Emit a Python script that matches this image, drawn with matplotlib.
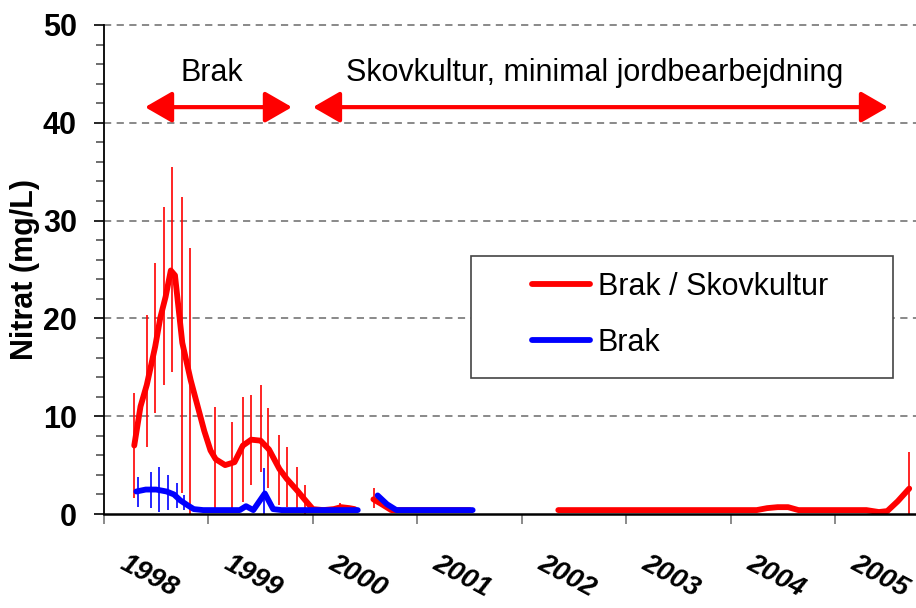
import numpy as np
import matplotlib
matplotlib.use('Agg')
import matplotlib.pyplot as plt
from matplotlib.patches import Rectangle

plt.rcParams['font.family'] = ['Liberation Sans', 'DejaVu Sans']

nan = np.nan

# Brak / Skovkultur (red) - line
red_x = [1998.29, 1998.35, 1998.41, 1998.49, 1998.54, 1998.59, 1998.64, 1998.68, 1998.75, 1998.83,
         1998.89, 1998.96, 1999.02, 1999.07, 1999.16, 1999.25, 1999.33, 1999.41, 1999.50, 1999.58,
         1999.68, 1999.75, 1999.85, 1999.92, 2000.00, 2000.10, 2000.20, 2000.27, 2000.35, 2000.40,
         nan, 2000.58, 2000.66, 2000.75, 2001.50,
         nan, 2002.35, 2004.25, 2004.35, 2004.45, 2004.55, 2004.65, 2005.30, 2005.42, 2005.50,
         2005.60, 2005.71]
red_y = [7.0, 11.0, 13.2, 17.1, 20.1, 22.2, 24.9, 24.4, 17.5, 13.7,
         11.3, 8.5, 6.5, 5.6, 5.0, 5.3, 7.0, 7.6, 7.5, 6.6,
         4.6, 3.6, 2.4, 1.5, 0.5, 0.4, 0.5, 0.7, 0.6, 0.5,
         nan, 1.5, 1.0, 0.4, 0.4,
         nan, 0.4, 0.4, 0.6, 0.7, 0.7, 0.4, 0.4, 0.2, 0.3,
         1.3, 2.6]

# red error bars (min / max)
red_bar_x = [1998.290, 1998.409, 1998.488, 1998.577, 1998.654, 1998.750, 1998.826, 1999.063,
             1999.229, 1999.328, 1999.405, 1999.501, 1999.573, 1999.676, 1999.749, 1999.845,
             1999.922, 2000.260, 2000.585, 2005.708]
red_bar_lo = [1.6, 6.9, 10.3, 13.2, 14.5, 2.1, -0.4, 0.6,
              0.6, 1.2, 3.0, 4.3, 2.7, 0.9, 0.7, 0.6,
              -0.1, 0.4, 0.6, -0.2]
red_bar_hi = [12.4, 20.3, 25.7, 31.4, 35.5, 32.4, 27.2, 10.9,
              9.4, 12.0, 12.2, 13.2, 10.8, 8.1, 6.9, 4.8,
              3.0, 1.1, 2.7, 6.3]

# Brak (blue) - line
blue_x = [1998.31, 1998.40, 1998.50, 1998.60, 1998.67, 1998.73, 1998.80, 1998.86, 1998.95, 1999.30,
          1999.36, 1999.43, 1999.54, 1999.62, 1999.70, 2000.43,
          nan, 2000.62, 2000.71, 2000.80, 2001.53]
blue_y = [2.3, 2.5, 2.5, 2.3, 2.0, 1.4, 0.9, 0.5, 0.4, 0.4,
          0.8, 0.4, 2.1, 0.5, 0.4, 0.4,
          nan, 1.9, 1.0, 0.4, 0.4]

blue_bar_x = [1998.328, 1998.447, 1998.524, 1998.616, 1998.696, 1998.769, 1999.535]
blue_bar_lo = [0.7, 0.6, 0.2, 0.4, 0.6, 0.4, -0.6]
blue_bar_hi = [3.8, 4.3, 4.8, 4.0, 3.2, 1.9, 4.7]

years = [1998, 1999, 2000, 2001, 2002, 2003, 2004, 2005]

fig = plt.figure(figsize=(9.16, 6.08), dpi=100)
ax = fig.add_axes([0.1135, 0.1546, 0.8865, 0.8043])

ax.vlines(red_bar_x, red_bar_lo, red_bar_hi, color='#ff0000', lw=1.2, zorder=3)
ax.vlines(blue_bar_x, blue_bar_lo, blue_bar_hi, color='#0000ff', lw=1.2, zorder=4)
ax.plot(red_x, red_y, color='#ff0000', lw=4.2, solid_capstyle='round',
        solid_joinstyle='round', zorder=5, label='Brak / Skovkultur')
ax.plot(blue_x, blue_y, color='#0000ff', lw=4.2, solid_capstyle='round',
        solid_joinstyle='round', zorder=6, label='Brak')

ax.set_xlim(1998, 2005.775)
ax.set_ylim(0, 50)

# grid
for v in range(10, 51, 10):
    ax.axhline(v, color='#808080', lw=1.3, ls=(0, (4, 3)), zorder=1, clip_on=False)

# y axis
ax.set_yticks(range(0, 51, 10))
ax.set_yticks(range(0, 51, 2), minor=True)
ax.tick_params(axis='y', which='major', length=7.5, width=1.2, color='black', pad=12,
               labelsize=22)
ax.tick_params(axis='y', which='minor', length=6, width=1.2, color='#555555')
for lab in ax.get_yticklabels():
    lab.set_fontweight('bold')
ax.set_ylabel('Nitrat (mg/L)', fontsize=22, fontweight='bold', labelpad=2)

# x axis: boundaries as major ticks, year labels as minor ticks
ax.set_xticks(years)
ax.set_xticklabels([])
ax.set_xticks([y + 0.43 for y in years], minor=True)
ax.set_xticklabels([str(y) for y in years], minor=True)
ax.tick_params(axis='x', which='major', length=7.5, width=1.2, color='#777777')
ax.tick_params(axis='x', which='minor', length=0, pad=45)
for lab in ax.get_xticklabels(minor=True):
    lab.set_fontsize(20)
    lab.set_fontweight('bold')
    lab.set_fontstyle('italic')
    lab.set_rotation(-28)
    lab.set_rotation_mode('anchor')
    lab.set_ha('center')
    lab.set_va('center')

for s in ['top', 'right']:
    ax.spines[s].set_visible(False)
ax.spines['left'].set_linewidth(1.3)
ax.spines['bottom'].set_linewidth(1.8)
ax.spines['bottom'].set_zorder(7)

# period annotations
arrow_style = '<|-|>,head_length=1.65,head_width=0.95'
ax.annotate('', xy=(1998.393, 41.6), xytext=(1999.800, 41.6),
            arrowprops=dict(arrowstyle=arrow_style, color='#ff0000', lw=3,
                            shrinkA=0, shrinkB=0, mutation_scale=10))
ax.annotate('', xy=(2000.001, 41.6), xytext=(2005.507, 41.6),
            arrowprops=dict(arrowstyle=arrow_style, color='#ff0000', lw=3,
                            shrinkA=0, shrinkB=0, mutation_scale=10))
ax.text(1999.03, 45.1, 'Brak', fontsize=22, ha='center', va='center')
ax.text(2002.70, 45.1, 'Skovkultur, minimal jordbearbejdning', fontsize=22,
        ha='center', va='center')

# legend with a separate frame box
ax.add_patch(Rectangle((470.7 / 916, 1 - 377.7 / 608), 422 / 916, 122 / 608,
                       transform=fig.transFigure, facecolor='white',
                       edgecolor='#444444', lw=1.2, zorder=8, clip_on=False))
leg = ax.legend(loc='upper left', bbox_to_anchor=(532 / 916, 1 - 272 / 608),
                bbox_transform=fig.transFigure, frameon=False, fontsize=22,
                handlelength=1.9, handletextpad=0.25, labelspacing=0.85, borderpad=0,
                borderaxespad=0)
leg.set_zorder(9)

fig.savefig('out.png', dpi=100)
